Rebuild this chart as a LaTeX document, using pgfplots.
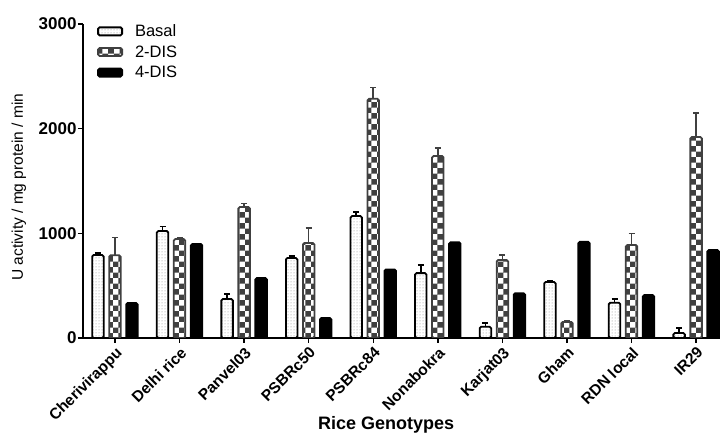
\documentclass[border=0pt]{standalone}
\usepackage{pgfplots}
\pgfplotsset{compat=1.18}
\usepackage{fontspec}
\setmainfont{Liberation Sans}
\usetikzlibrary{patterns}
\definecolor{dgray}{HTML}{404040}

\begin{document}
\begin{tikzpicture}
\begin{axis}[
  name=ax,
  scale only axis,
  width=637pt, height=314pt,
  xmin=-0.495, xmax=9.37,
  ymin=0, ymax=3000,
  axis lines*=left,
  axis line style={line width=1.8pt},
  clip=true,
  ytick={0,1000,2000,3000},
  xtick={0,...,9},
  xticklabels={Cherivirappu,Delhi rice,Panvel03,PSBRc50,PSBRc84,Nonabokra,Karjat03,Gham,RDN local,IR29},
  tick align=outside,
  major tick length=5pt,
  tick style={line width=1.5pt, black},
  /pgf/number format/assume math mode=true,
  /pgf/number format/1000 sep={},
  yticklabel style={font=\fontsize{17}{17}\selectfont\bfseries, xshift=2pt},
  xticklabel style={font=\fontsize{15.5}{16}\selectfont\bfseries, rotate=45, anchor=north east, inner sep=2pt},
  ylabel={U activity / mg protein / min},
  ylabel style={font=\fontsize{15.5}{16}\selectfont, at={(axis description cs:-0.1005,0.48)}, anchor=center},
  xlabel={Rice Genotypes},
  xlabel style={font=\fontsize{18}{18}\selectfont\bfseries, at={(axis description cs:0.476,-0.238)}, anchor=north},
  ybar, bar width=11.5pt,
  legend style={draw=none, fill=none, at={(axis description cs:0.022,1.005)}, anchor=north west,
    font=\fontsize{16.5}{17}\selectfont, row sep=3.5pt, column sep=10pt, inner sep=0pt},
  legend cell align=left,
  legend image code/.code={\draw[#1, line width=1.8pt, rounded corners=1.5pt] (0pt,-4pt) rectangle (24pt,4pt);},
  error bars/y dir=plus,
  error bars/y explicit,
  error bars/error mark options={rotate=90, mark size=3pt, line width=1.6pt},
]
\addplot[draw=black, line width=1.8pt, pattern=dots, pattern color=gray, bar shift=-17pt, rounded corners=1.5pt,
  error bars/error bar style={line width=1.6pt, black}]
coordinates {(0,793) +- (0,20) (1,1022) +- (0,45) (2,372) +- (0,50) (3,764) +- (0,20) (4,1165) +- (0,40)
 (5,620) +- (0,78) (6,108) +- (0,35) (7,535) +- (0,15) (8,337) +- (0,35) (9,48) +- (0,45)};
\addlegendentry{Basal}
\addplot[draw=dgray, line width=1.8pt, pattern=checkerboard, pattern color=dgray, bar shift=0pt, rounded corners=1.5pt,
  error bars/error bar style={line width=1.6pt, dgray}]
coordinates {(0,790) +- (0,170) (1,945) +- (0,15) (2,1251) +- (0,35) (3,907) +- (0,145) (4,2285) +- (0,110)
 (5,1738) +- (0,75) (6,745) +- (0,48) (7,153) +- (0,15) (8,888) +- (0,110) (9,1920) +- (0,230)};
\addlegendentry{2-DIS}
\addplot[draw=black, fill=black, line width=1.8pt, bar shift=17pt, rounded corners=1.5pt]
coordinates {(0,334) (1,898) (2,573) (3,191) (4,655) (5,915) (6,428) (7,919) (8,410) (9,840)};
\addlegendentry{4-DIS}
\end{axis}
\pgfresetboundingbox
\path ([shift={(-83pt,-97pt)}]ax.south west) rectangle ([shift={(0pt,24pt)}]ax.north east);
\end{tikzpicture}
\end{document}
